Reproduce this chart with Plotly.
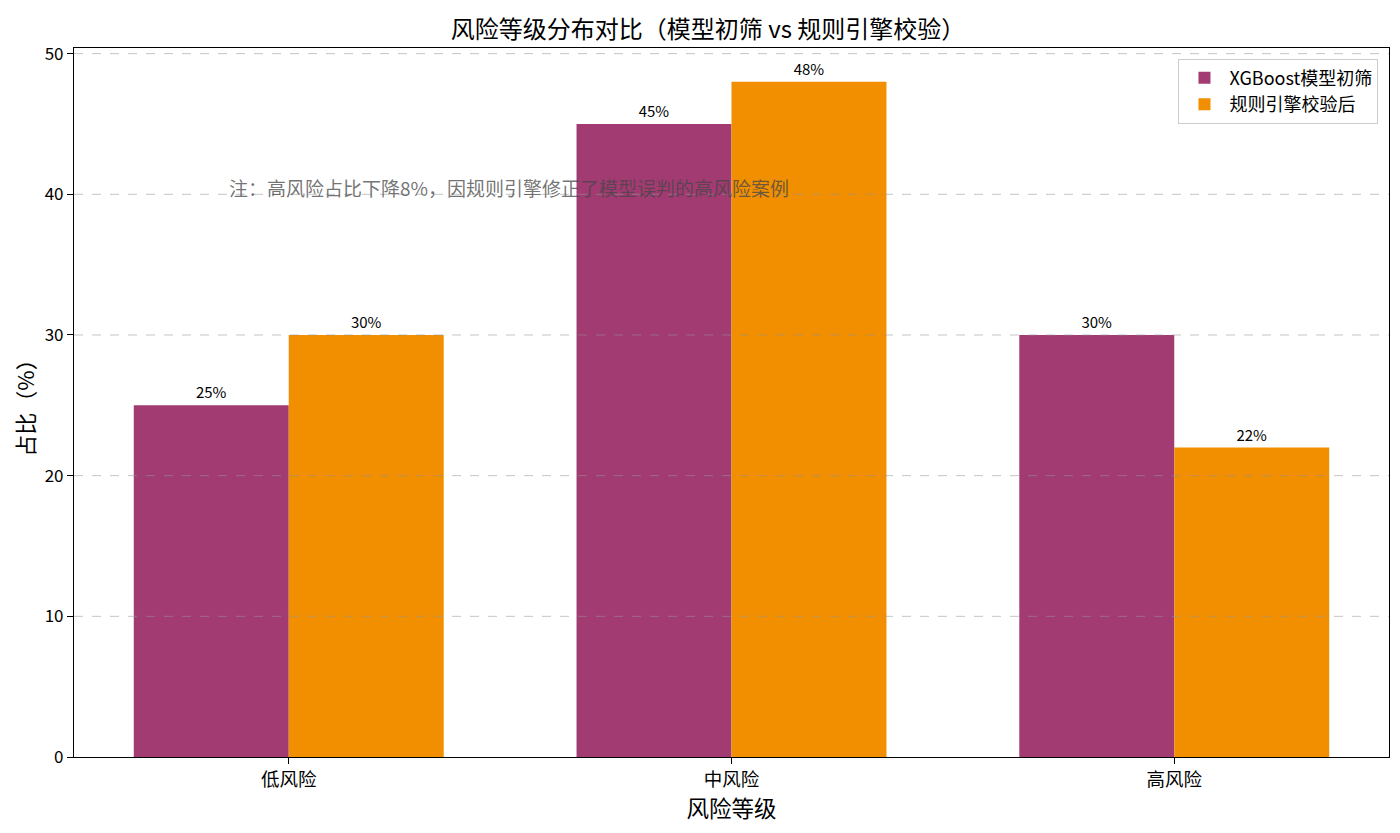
import plotly.graph_objects as go

# 数据
categories = ["低风险", "中风险", "高风险"]
model_values = [25, 45, 30]
rule_values = [30, 48, 22]
series_names = ["XGBoost模型初筛", "规则引擎校验后"]
y_ticks = [0, 10, 20, 30, 40, 50]

FONT = "Noto Sans CJK SC, SimHei, sans-serif"

fig = go.Figure()

fig.add_trace(go.Bar(
    x=categories,
    y=model_values,
    name=series_names[0],
    marker=dict(color="#A23B72", line=dict(width=0)),
    text=[f"{v}%" for v in model_values],
    textposition="outside",
    textfont=dict(size=15, color="black"),
    cliponaxis=False,
))
fig.add_trace(go.Bar(
    x=categories,
    y=rule_values,
    name=series_names[1],
    marker=dict(color="#F18F01", line=dict(width=0)),
    text=[f"{v}%" for v in rule_values],
    textposition="outside",
    textfont=dict(size=15, color="black"),
    cliponaxis=False,
))

# 网格线画在柱子上方（与原图一致）
for t in y_ticks[1:]:
    fig.add_shape(
        type="line", xref="paper", yref="y",
        x0=0, x1=1, y0=t, y1=t,
        line=dict(color="rgba(150,150,150,0.55)", width=1, dash="dash"),
        layer="above",
    )

fig.add_annotation(
    text="注：高风险占比下降8%，因规则引擎修正了模型误判的高风险案例",
    xref="paper", yref="y",
    x=0.116, y=40.5,
    xanchor="left", yanchor="middle",
    showarrow=False,
    font=dict(size=19, color="rgba(70,70,70,0.75)", family=FONT),
)

fig.update_layout(
    title=dict(
        text="风险等级分布对比（模型初筛 vs 规则引擎校验）",
        x=0.5, xanchor="center",
        y=0.974, yanchor="middle",
        font=dict(size=24, color="black", family=FONT),
    ),
    barmode="group",
    bargap=0.3,
    bargroupgap=0,
    width=1400,
    height=833,
    margin=dict(l=66, r=19, t=40, b=84),
    plot_bgcolor="white",
    paper_bgcolor="white",
    font=dict(family=FONT, size=17, color="black"),
    legend=dict(
        x=0.992, y=0.985, xanchor="right", yanchor="top",
        bgcolor="rgba(255,255,255,0.85)",
        bordercolor="#cccccc", borderwidth=1,
        font=dict(size=18, family=FONT),
        itemwidth=40,
        traceorder="normal",
    ),
    showlegend=True,
)

fig.update_xaxes(
    title=dict(text="风险等级", font=dict(size=22.5), standoff=6),
    range=[-0.485, 2.485],
    showline=True, linecolor="black", linewidth=1.2, mirror=True,
    ticks="outside", ticklen=6, tickcolor="black",
    tickfont=dict(size=18.5),
    showgrid=False,
)
fig.update_yaxes(
    title=dict(text="占比（%）", font=dict(size=22), standoff=6),
    range=[0, 50.4],
    tickvals=y_ticks,
    showline=True, linecolor="black", linewidth=1.2, mirror=True,
    ticks="outside", ticklen=6, tickcolor="black",
    tickfont=dict(size=17),
    showgrid=False,
    zeroline=False,
)

fig.write_html("out.html")
